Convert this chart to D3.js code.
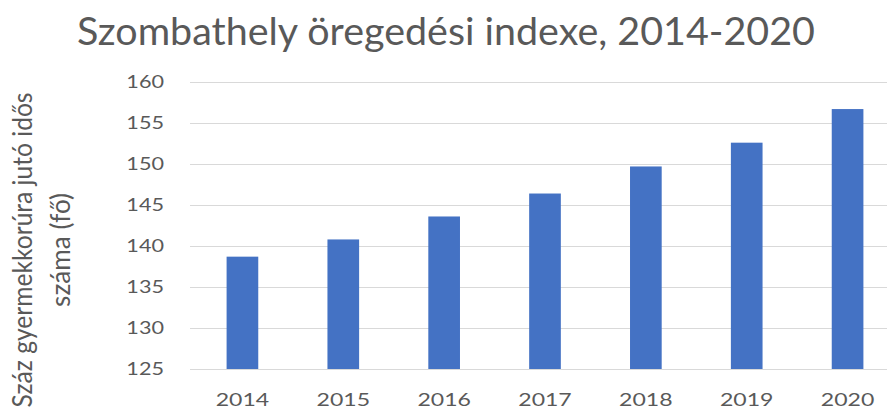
<!DOCTYPE html>
<html>
<head>
<meta charset="utf-8">
<script src="https://cdn.jsdelivr.net/npm/d3@7"></script>
<style>
    body { margin: 0; background: #fff; }
    svg { display: block; }
    text { font-family: Lato, "Open Sans", sans-serif; fill: #595959; }
</style>
</head>
<body>
<svg id="chart" width="887" height="410"></svg>
<script>
// Data
const years = ["2014", "2015", "2016", "2017", "2018", "2019", "2020"];
const agingIndex = [138.7, 140.8, 143.6, 146.4, 149.7, 152.6, 156.7];
const yTicks = [125, 130, 135, 140, 145, 150, 155, 160];
const titleText = "Szombathely öregedési indexe, 2014-2020";
const yLabelLines = ["Száz gyermekkorúra jutó idős", "száma (fő)"];

const svg = d3.select("#chart");

// Scales - plot area runs off the right edge like the original crop
const x = d3.scaleBand()
    .domain(years)
    .range([192, 898])
    .paddingInner(0.686)
    .paddingOuter(0.343);

const y = d3.scaleLinear()
    .domain([125, 160])
    .range([369, 82]);

// Gridlines
svg.append("g")
    .selectAll("line")
    .data(yTicks)
    .enter().append("line")
    .attr("x1", 190)
    .attr("x2", 887)
    .attr("y1", d => Math.round(y(d)) + 0.5)
    .attr("y2", d => Math.round(y(d)) + 0.5)
    .style("stroke", "#d9d9d9")
    .style("stroke-width", 1);

// Bars
svg.append("g")
    .selectAll("rect")
    .data(agingIndex)
    .enter().append("rect")
    .attr("x", (d, i) => x(years[i]))
    .attr("y", d => y(d))
    .attr("width", x.bandwidth())
    .attr("height", d => y(125) - y(d))
    .style("fill", "#4472C4");

// Stretch text horizontally (the source picture is widened)
function stretch(sel, factor) {
    sel.each(function () {
        const w = this.getComputedTextLength();
        d3.select(this)
            .attr("textLength", w * factor)
            .attr("lengthAdjust", "spacingAndGlyphs");
    });
}

// Y tick labels
svg.append("g")
    .selectAll("text")
    .data(yTicks)
    .enter().append("text")
    .attr("x", 164)
    .attr("y", d => y(d))
    .attr("dy", "0.36em")
    .style("text-anchor", "end")
    .style("font-size", "16.5px")
    .text(d => d)
    .call(stretch, 1.31);

// X tick labels
svg.append("g")
    .selectAll("text")
    .data(years)
    .enter().append("text")
    .attr("x", d => x(d) + x.bandwidth() / 2)
    .attr("y", 406)
    .style("text-anchor", "middle")
    .style("font-size", "18px")
    .text(d => d)
    .call(stretch, 1.28);

// Title - fit font size to the measured width
const title = svg.append("text")
    .attr("x", 446)
    .attr("y", 45)
    .style("text-anchor", "middle")
    .style("font-size", "40px")
    .text(titleText);
const tw = title.node().getComputedTextLength();
title.style("font-size", (40 * 738 / tw) + "px");

// Y axis label (two rotated lines, glyphs widened)
const labelBase = [32, 70];
const labelLen = [315, 114];
yLabelLines.forEach((line, i) => {
    svg.append("g")
        .attr("transform", `translate(${labelBase[i]},250) rotate(-90) scale(1,1.4)`)
        .append("text")
        .style("text-anchor", "middle")
        .style("font-size", "19px")
        .attr("textLength", labelLen[i])
        .attr("lengthAdjust", "spacingAndGlyphs")
        .text(line);
});
</script>
</body>
</html>
